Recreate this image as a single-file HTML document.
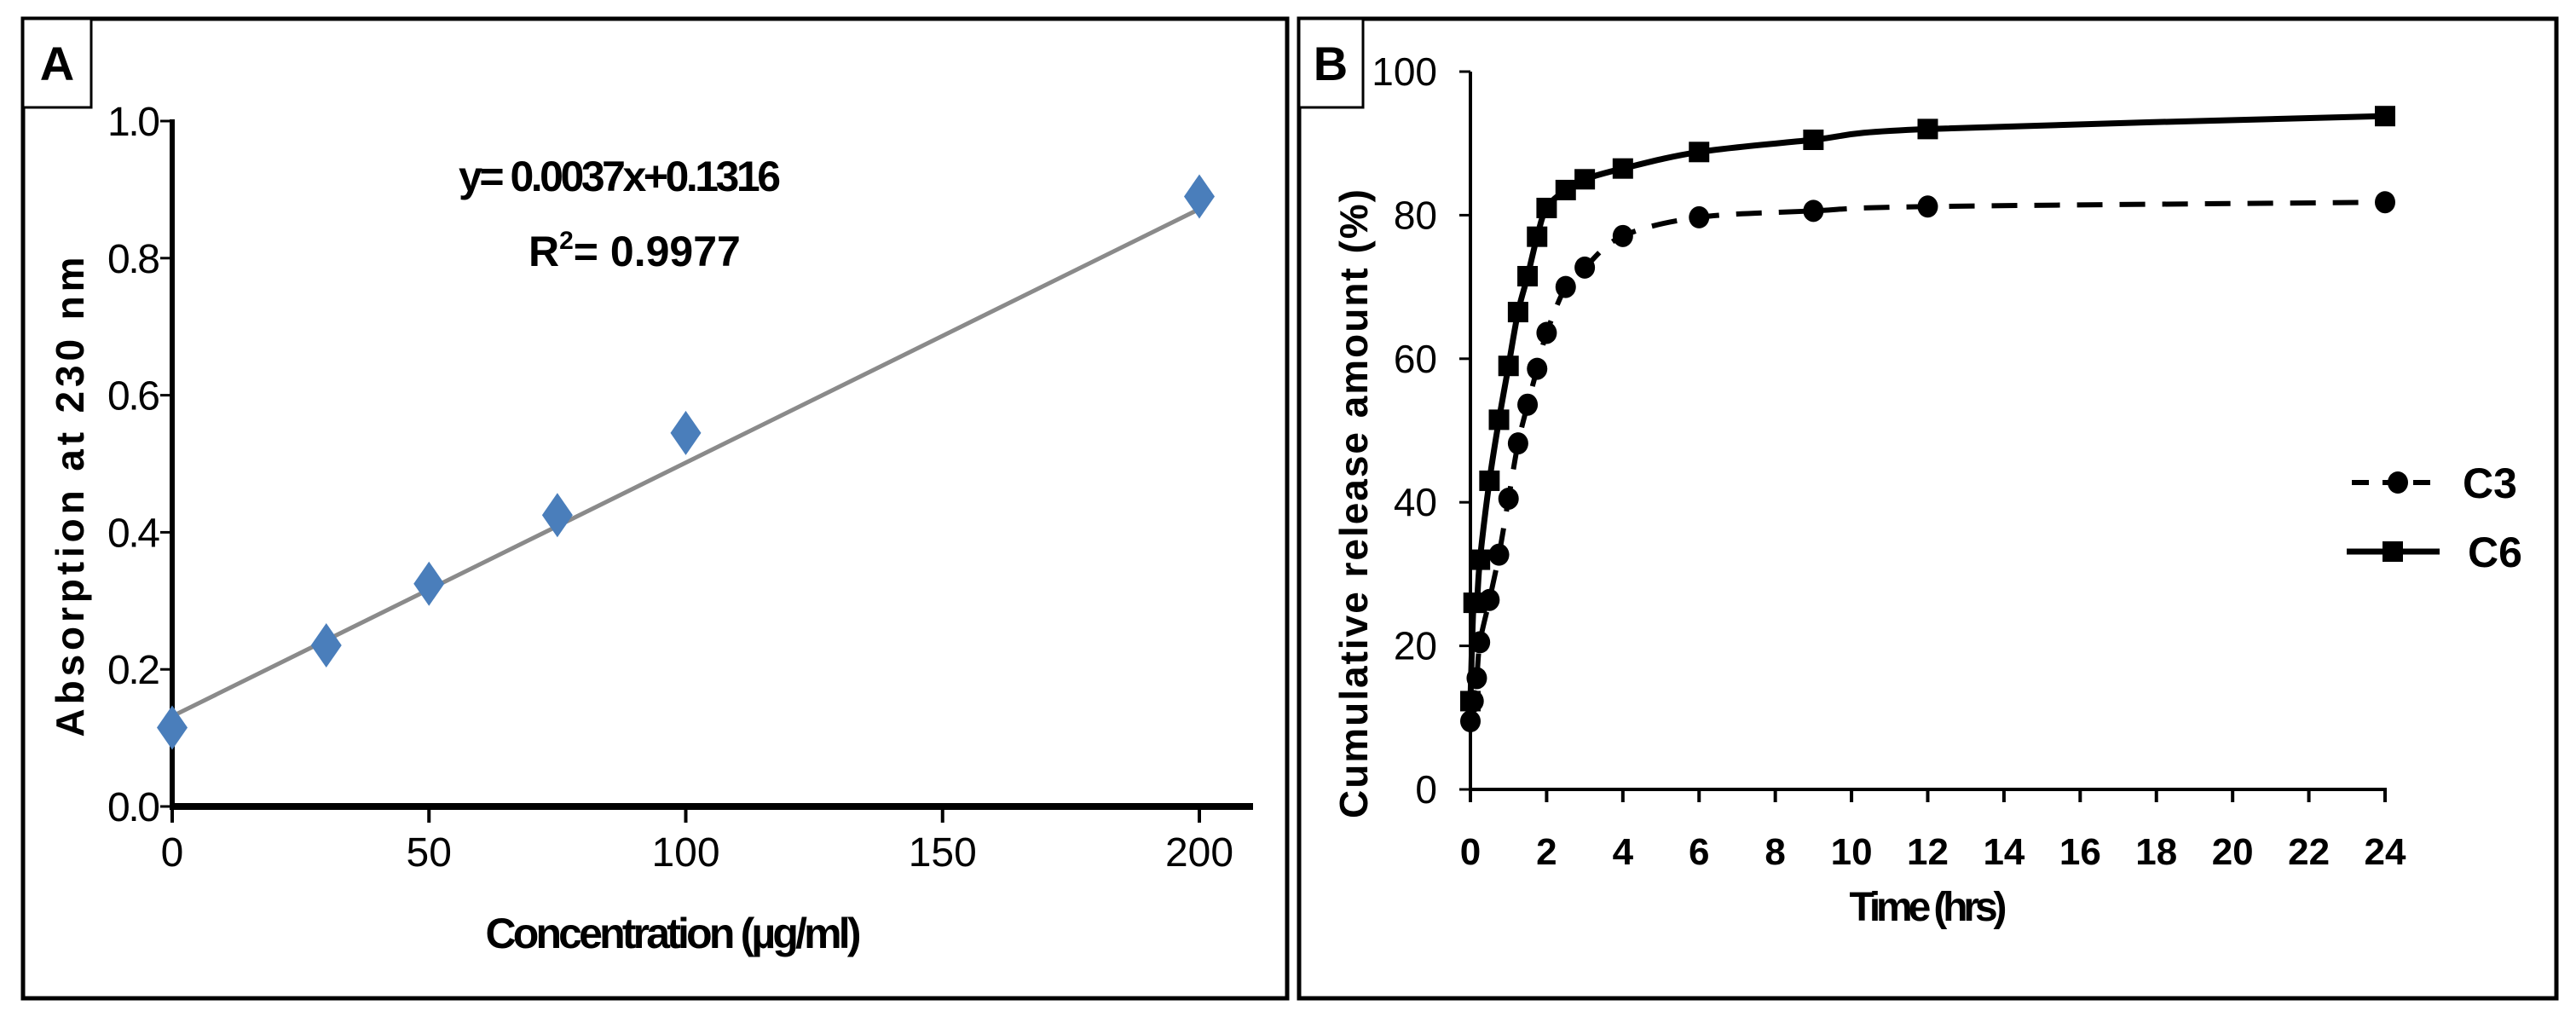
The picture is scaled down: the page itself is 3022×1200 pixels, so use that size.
<!DOCTYPE html>
<html><head><meta charset="utf-8"><style>
html,body{margin:0;padding:0;background:#fff;}
svg{display:block;font-family:"Liberation Sans Narrow","Liberation Sans",sans-serif;}
</style></head><body>
<svg id="fig" width="3022" height="1200" viewBox="0 0 3022 1200" xmlns="http://www.w3.org/2000/svg">
<rect x="27" y="22" width="1483" height="1149" fill="none" stroke="#000" stroke-width="5"/>
<rect x="1524" y="22" width="1475" height="1149" fill="none" stroke="#000" stroke-width="5"/>
<rect x="27" y="22" width="80" height="104" fill="#fff" stroke="#000" stroke-width="3"/>
<text x="67" y="94" font-size="56" font-weight="bold" text-anchor="middle" font-family="Liberation Sans, sans-serif">A</text>
<rect x="1524" y="22" width="75" height="104" fill="#fff" stroke="#000" stroke-width="3"/>
<text x="1561" y="94" font-size="56" font-weight="bold" text-anchor="middle" font-family="Liberation Sans, sans-serif">B</text>
<g id="gA"></g>
<g id="gB"></g>
</svg>
<script>
// Panel A data
const concX = [0, 30, 50, 75, 100, 200];
const absY = [0.115, 0.235, 0.325, 0.425, 0.545, 0.89];
const slopeA = [0.0037];
const interceptA = [0.1316];
const aXTicks = [0, 50, 100, 150, 200];
const aYTicks = ["0.0", "0.2", "0.4", "0.6", "0.8", "1.0"];
// Panel B data
const timeC3 = [0, 0.083, 0.167, 0.25, 0.5, 0.75, 1, 1.25, 1.5, 1.75, 2, 2.5, 3, 4, 6, 9, 12, 24];
const relC3 = [9.5, 12.3, 15.5, 20.5, 26.4, 32.7, 40.5, 48.2, 53.6, 58.6, 63.6, 70, 72.7, 77.1, 79.7, 80.6, 81.2, 81.8];
const timeC6 = [0, 0.083, 0.167, 0.25, 0.5, 0.75, 1, 1.25, 1.5, 1.75, 2, 2.5, 3, 4, 6, 9, 12, 24];
const relC6 = [12.3, 26, 26, 32, 43, 51.5, 59, 66.5, 71.5, 77, 81, 83.5, 85, 86.5, 88.8, 90.5, 92, 93.8];
const bXTicks = [0,2,4,6,8,10,12,14,16,18,20,22,24];
const bYTicks = [0,20,40,60,80,100];

const NS = "http://www.w3.org/2000/svg";
function mk(parent, tag, attrs, text){
  const e = document.createElementNS(NS, tag);
  for (const k in attrs) e.setAttribute(k, attrs[k]);
  if (text !== undefined) e.textContent = text;
  parent.appendChild(e);
  return e;
}
// ---- Panel A ----
const gA = document.getElementById('gA');
const ax = v => 202 + v * (1407 - 202) / 200;
const ay = v => 946 - v * (946 - 142) / 1.0;
let e;
e = mk(gA, 'line', {x1:202, y1:140, x2:202, y2:950, stroke:'#000', 'stroke-width':6});


e = mk(gA, 'line', {x1:199, y1:946, x2:1470, y2:946, stroke:'#000', 'stroke-width':8});


aYTicks.forEach(t => {
  const y = ay(parseFloat(t));
  mk(gA, 'line', {x1:188, y1:y, x2:202, y2:y, stroke:'#000', 'stroke-width':3});
  e = mk(gA, 'text', {x:188, y:y+17, 'font-size':48, 'text-anchor':'end', textLength:62}, t);
  
  
});
aXTicks.forEach(t => {
  const x = ax(t);
  mk(gA, 'line', {x1:x, y1:946, x2:x, y2:965, stroke:'#000', 'stroke-width':4});
  e = mk(gA, 'text', {x:x, y:1016, 'font-size':48, 'text-anchor':'middle'}, String(t));
  
  
});
e = mk(gA, 'line', {x1:ax(0), y1:ay(interceptA[0]), x2:ax(200), y2:ay(interceptA[0]+slopeA[0]*200), stroke:'#8a8a8a', 'stroke-width':5});


concX.forEach((c, i) => {
  const x = ax(c), y = ay(absY[i]);
  e = mk(gA, 'polygon', {points:`${x},${y-26} ${x+18},${y} ${x},${y+26} ${x-18},${y}`, fill:'#4a7ebb'});
  
  
});
e = mk(gA, 'text', {x:727, y:224, 'font-size':50, 'font-weight':'bold', 'text-anchor':'middle', textLength:378}, 'y= 0.0037x+0.1316');


e = mk(gA, 'text', {x:620, y:312, 'font-size':50, 'font-weight':'bold'});
e.innerHTML = 'R<tspan dy="-20" font-size="30">2</tspan><tspan dy="20">= 0.9977</tspan>';


e = mk(gA, 'text', {x:0, y:0, 'font-size':46, 'font-weight':'bold', 'text-anchor':'middle', 'font-family':'Liberation Sans, sans-serif', textLength:563, transform:'translate(98,583) rotate(-90)'}, 'Absorption at 230 nm');


e = mk(gA, 'text', {x:790, y:1112, 'font-size':50, 'font-weight':'bold', 'text-anchor':'middle', textLength:441}, 'Concentration (µg/ml)');



// ---- Panel B ----
const gB = document.getElementById('gB');
const bx = v => 1725 + v * (2798 - 1725) / 24;
const by = v => 926 - v * (926 - 84) / 100;
e = mk(gB, 'line', {x1:1725, y1:84, x2:1725, y2:928, stroke:'#000', 'stroke-width':4});


e = mk(gB, 'line', {x1:1723, y1:926, x2:2800, y2:926, stroke:'#000', 'stroke-width':4});


bYTicks.forEach(t => {
  const y = by(t);
  mk(gB, 'line', {x1:1712, y1:y, x2:1725, y2:y, stroke:'#000', 'stroke-width':3});
  e = mk(gB, 'text', {x:1686, y:y+16, 'font-size':46, 'text-anchor':'end'}, String(t));
  
  
});
bXTicks.forEach(t => {
  const x = bx(t);
  mk(gB, 'line', {x1:x, y1:926, x2:x, y2:941, stroke:'#000', 'stroke-width':4});
  e = mk(gB, 'text', {x:x, y:1014, 'font-size':44, 'font-weight':'bold', 'text-anchor':'middle'}, String(t));
  
  
});
function smoothPath(xs, ys){
  const p = xs.map((t,i)=>[bx(t), by(ys[i])]);
  let d = `M${p[0][0]},${p[0][1]}`;
  for (let i=0;i<p.length-1;i++){
    const p0=p[Math.max(i-1,0)], p1=p[i], p2=p[i+1], p3=p[Math.min(i+2,p.length-1)];
    const c1=[p1[0]+(p2[0]-p0[0])/6, p1[1]+(p2[1]-p0[1])/6];
    const c2=[p2[0]-(p3[0]-p1[0])/6, p2[1]-(p3[1]-p1[1])/6];
    d += ` C${c1[0]},${c1[1]} ${c2[0]},${c2[1]} ${p2[0]},${p2[1]}`;
  }
  return d;
}
e = mk(gB, 'path', {d:smoothPath(timeC3, relC3), fill:'none', stroke:'#000', 'stroke-width':6, 'stroke-dasharray':'30 20'});


e = mk(gB, 'path', {d:smoothPath(timeC6, relC6), fill:'none', stroke:'#000', 'stroke-width':7});


timeC3.forEach((t,i) => {
  e = mk(gB, 'ellipse', {cx:bx(t), cy:by(relC3[i]), rx:12, ry:13, fill:'#000'});
  
  
});
timeC6.forEach((t,i) => {
  e = mk(gB, 'rect', {x:bx(t)-12, y:by(relC6[i])-12, width:24, height:24, fill:'#000'});
  
  
});
// legend
e = mk(gB, 'line', {x1:2759, y1:566, x2:2866, y2:566, stroke:'#000', 'stroke-width':6, 'stroke-dasharray':'20 16'});


e = mk(gB, 'ellipse', {cx:2813, cy:566, rx:12, ry:13, fill:'#000'});


e = mk(gB, 'text', {x:2889, y:584, 'font-size':50, 'font-weight':'bold', 'font-family':'Liberation Sans, sans-serif'}, 'C3');


e = mk(gB, 'line', {x1:2753, y1:647, x2:2862, y2:647, stroke:'#000', 'stroke-width':7});


e = mk(gB, 'rect', {x:2795, y:635, width:24, height:24, fill:'#000'});


e = mk(gB, 'text', {x:2895, y:665, 'font-size':50, 'font-weight':'bold', 'font-family':'Liberation Sans, sans-serif'}, 'C6');


e = mk(gB, 'text', {x:0, y:0, 'font-size':46, 'font-weight':'bold', 'text-anchor':'middle', 'font-family':'Liberation Sans, sans-serif', textLength:738, transform:'translate(1604,591) rotate(-90)'}, 'Cumulative release amount (%)');


e = mk(gB, 'text', {x:2262, y:1080, 'font-size':48, 'font-weight':'bold', 'text-anchor':'middle', textLength:185}, 'Time (hrs)');


</script>
</body></html>
